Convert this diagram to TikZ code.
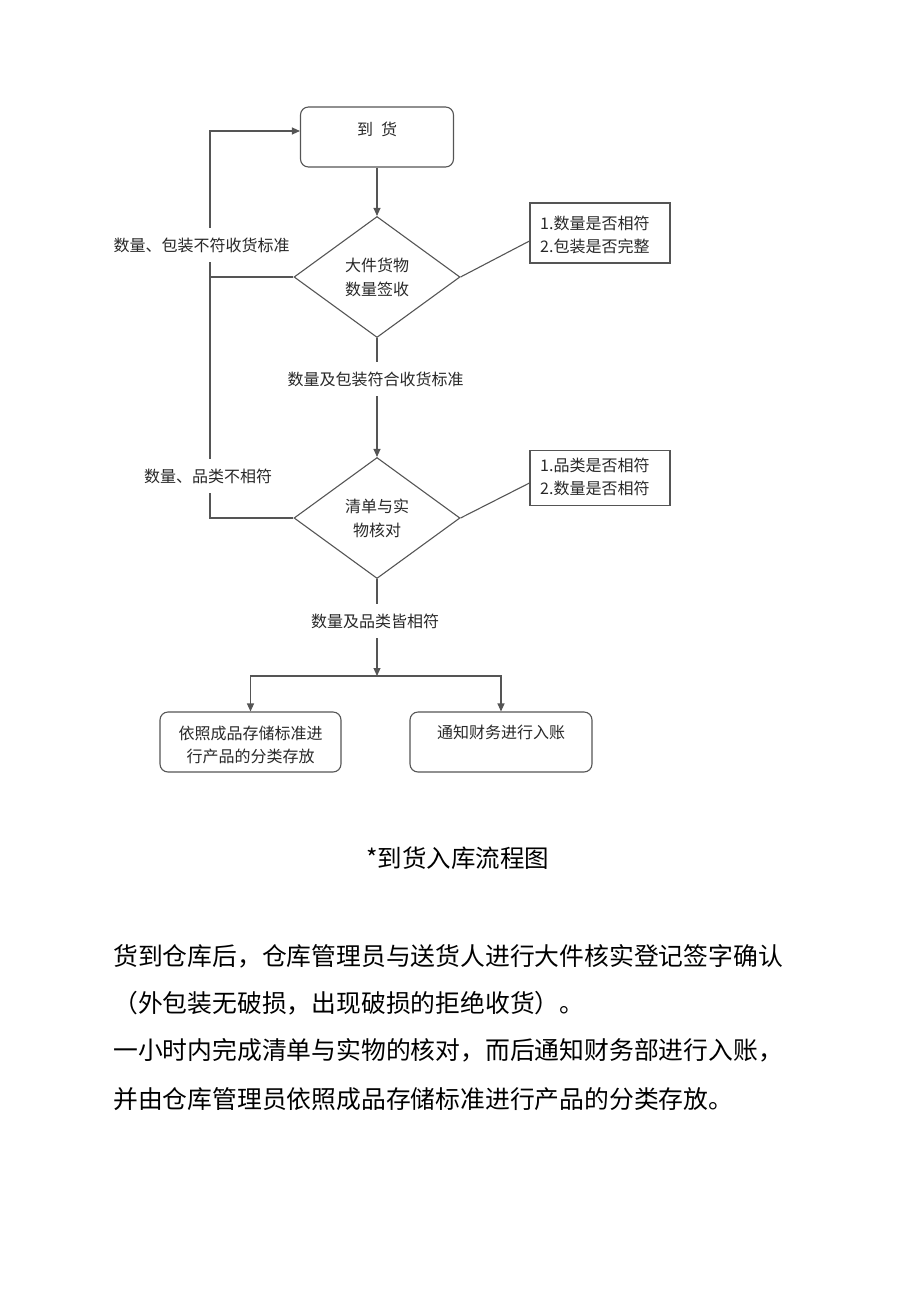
\documentclass[tikz,border=0pt]{standalone}
\usepackage{fontspec}
\setmainfont{Noto Sans CJK SC}
\usetikzlibrary{shapes.geometric,arrows.meta}
\definecolor{linec}{RGB}{85,85,85}
\definecolor{txtc}{RGB}{40,40,40}
\begin{document}
\begin{tikzpicture}[x=1pt,y=-1pt,
  every node/.style={text=txtc},
  lab/.style={font=\fontsize{16}{23}\selectfont},
  rbox/.style={draw=linec, line width=1.1pt, rounded corners=8pt, minimum width=#1, minimum height=60pt, inner sep=0pt},
  dia/.style={draw=linec, line width=1.1pt, diamond, aspect=1.37, minimum width=166pt, minimum height=121pt, inner sep=1pt, align=center, font=\fontsize{16}{24}\selectfont},
  note/.style={draw=linec, line width=1.1pt, minimum width=140pt, minimum height=#1, inner sep=0pt},
  conn/.style={draw=linec, line width=1.1pt},
  arr/.style={conn, -{Triangle[length=8pt,width=7pt]}},
  gap/.style={lab, fill=white, inner xsep=2pt, inner ysep=10pt},
  para/.style={anchor=west, text=black, font=\fontsize{24.8}{30}\selectfont, inner sep=0pt}
]
\useasboundingbox (0,0) rectangle (920,1301);
% boxes
\node[rbox=153pt] (arrive) at (377,137) {};
\node[lab] (arriveT) at (377,129) {到\hspace{8pt}货};
\node[dia] (d1) at (377,277) {大件货物\\数量签收};
\node[dia] (d2) at (377,518) {清单与实\\物核对};
\node[note=60pt] (n1) at (600,233) {};
\node[lab, anchor=west, align=left, inner sep=0pt] (n1T) at (540,234.5) {1.数量是否相符\\2.包装是否完整};
\node[note=55pt] (n2) at (600,478) {};
\node[lab, anchor=west, align=left, inner sep=0pt] (n2T) at (540,477) {1.品类是否相符\\2.数量是否相符};
\node[rbox=181pt] (b1) at (250.5,742) {};
\node[lab, align=center, inner sep=0pt] (b1T) at (250.5,745) {依照成品存储标准进\\行产品的分类存放};
\node[rbox=182pt] (b2) at (501,742) {};
\node[lab] (b2T) at (501,732) {通知财务进行入账};
% connectors
\coordinate (L1) at (210,277);
\coordinate (split) at (377,676);
\draw[arr] (arrive.south) -- (d1.north);
\draw[arr] (d1.west) -- (L1) |- ([yshift=6pt]arrive.west);
\draw[conn] (d2.west) -| (L1);
\draw[conn] (d1.east) -- ([yshift=-8pt]n1.west);
\draw[conn] (d2.east) -- ([yshift=-5pt]n2.west);
\draw[arr] (d1.south) -- (d2.north);
\draw[arr] (d2.south) -- (split);
\draw[arr] (split) -| (b1.north);
\draw[arr] (split) -| (b2.north);
% labels on connectors
\node[gap] (g1) at (201.5,245) {数量、包装不符收货标准};
\node[gap] (g2) at (375.5,379) {数量及包装符合收货标准};
\node[gap] (g3) at (208,476) {数量、品类不相符};
\node[gap] (g4) at (375,621) {数量及品类皆相符};
% caption and paragraph
\node[text=black, font=\fontsize{24.5}{30}\selectfont, inner sep=0pt] (cap) at (458,858) {*到货入库流程图};
\node[para] (p1) at (113,956) {货到仓库后，仓库管理员与送货人进行大件核实登记签字确认};
\node[para] (p2) at (113,1003) {（外包装无破损，出现破损的拒绝收货）。};
\node[para] (p3) at (113,1050) {一小时内完成清单与实物的核对，而后通知财务部进行入账，};
\node[para] (p4) at (113,1099) {并由仓库管理员依照成品存储标准进行产品的分类存放。};
\end{tikzpicture}
\end{document}
